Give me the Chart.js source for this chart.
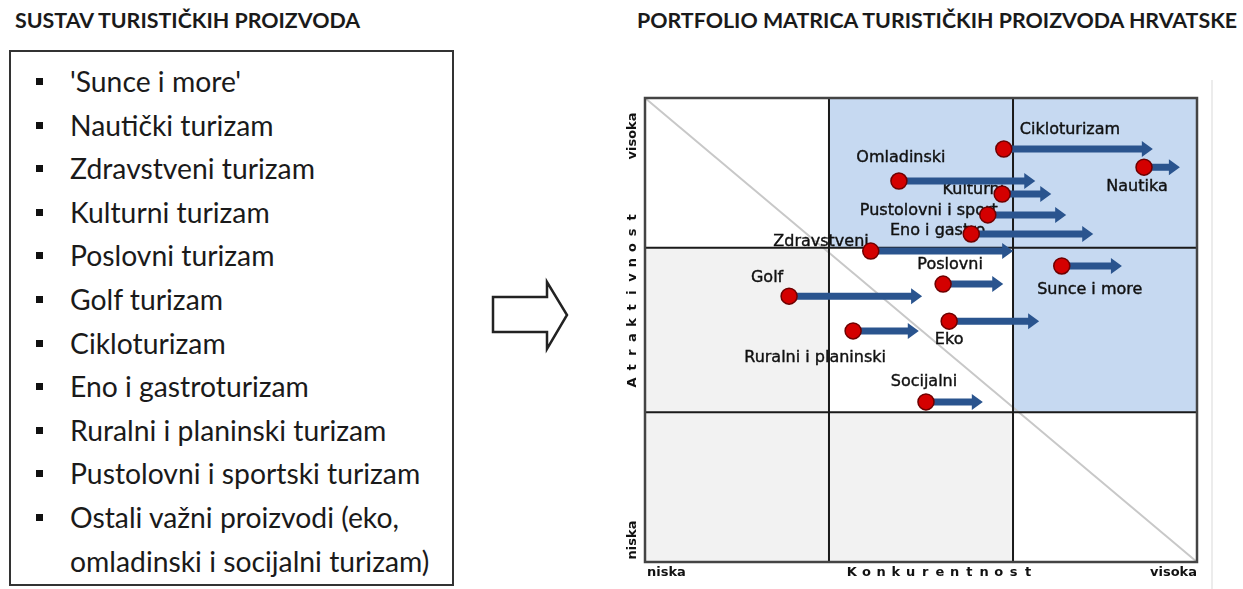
<!DOCTYPE html>
<html>
<head>
<meta charset="utf-8">
<script src="https://cdn.jsdelivr.net/npm/chart.js"></script>
<style>
  body { margin: 0; width: 1243px; height: 589px; background: #fff; position: relative; overflow: hidden; font-family: Lato, "Open Sans", sans-serif; color: #111; }
  .title { position: absolute; top: 7px; font-weight: bold; font-size: 21.4px; color: #1a1a1a; }
  #box { position: absolute; left: 9px; top: 50px; width: 441px; height: 532px; border: 2px solid #333; }
  #box ul { list-style: none; margin: 0; padding: 8px 0 0 0; }
  #box li { position: relative; padding-left: 59px; font-size: 28.3px; line-height: 43.6px; white-space: pre-line; color: #1a1a1a; }
  #box li::before { content: ""; position: absolute; left: 25px; top: 18px; width: 7px; height: 7px; background: #111; }
  #rightLine { position: absolute; left: 1211px; top: 80px; width: 2px; height: 509px; background: #ececec; }
  #chartWrap { position: absolute; left: 600px; top: 40px; width: 643px; height: 549px; }
</style>
</head>
<body>
<div class="title" style="left:15px">SUSTAV TURISTIČKIH PROIZVODA</div>
<div id="box"><ul id="list"></ul></div>
<svg style="position:absolute;left:0;top:0" width="600" height="589">
  <polygon points="493,297 547,297 547,282 567,315 547,349 547,332 493,332" fill="#fff" stroke="#222" stroke-width="2.5" stroke-linejoin="miter"/>
</svg>
<div class="title" style="left:637px">PORTFOLIO MATRICA TURISTIČKIH PROIZVODA HRVATSKE</div>
<div id="rightLine"></div>
<div id="chartWrap"><canvas id="matrix" width="643" height="549"></canvas></div>

<script>
// lijevi popis
const listItems = [
  "'Sunce i more'",
  "Nautički turizam",
  "Zdravstveni turizam",
  "Kulturni turizam",
  "Poslovni turizam",
  "Golf turizam",
  "Cikloturizam",
  "Eno i gastroturizam",
  "Ruralni i planinski turizam",
  "Pustolovni i sportski turizam",
  "Ostali važni proizvodi (eko,\nomladinski i socijalni turizam)"
];

// portfolio matrica (0-100 na obje osi)
const products = ["Cikloturizam", "Nautika", "Omladinski", "Kulturni", "Pustolovni i sport", "Eno i gastro",
  "Zdravstveni", "Poslovni", "Sunce i more", "Golf", "Ruralni i planinski", "Eko", "Socijalni"];
const competitiveness = [65.0, 90.4, 46.0, 64.7, 62.1, 59.1, 40.9, 54.0, 75.5, 26.1, 37.7, 55.1, 50.9];
const competitivenessTarget = [92.0, 96.9, 70.7, 73.6, 76.3, 81.2, 66.7, 64.9, 86.4, 50.2, 49.6, 71.4, 61.2];
const attractiveness = [89.0, 85.1, 82.1, 79.3, 74.8, 70.7, 67.0, 59.9, 63.8, 57.3, 49.8, 51.9, 34.5];

const xAxisLabels = ["niska", "Konkurentnost", "visoka"];
const yAxisLabels = ["niska", "Atraktivnost", "visoka"];
const xSplits = [33.33, 66.67];
const ySplits = [32.3, 67.7];

document.getElementById("list").innerHTML = listItems.map((t) => `<li>${t}</li>`).join("");

// izgled
const BLUE = "#c6d9f1";
const GREY = "#f2f2f2";
const cellFill = [
  [null, BLUE, BLUE], // gornji red
  [GREY, null, BLUE],
  [GREY, GREY, null]
];
// pomak oznake od tocke: dx, dy, poravnanje
const labelOffsets = [
  [16, -19, "left"], [-7, 20, "center"], [2, -23, "center"], [2, -4, "right"], [10, -4, "right"],
  [14, -3, "right"], [-2, -9, "right"], [7, -19, "center"], [28, 24, "center"], [-22, -18, "center"],
  [-38, 27, "center"], [0, 19, "center"], [-2, -20, "center"]
];
const ARROW = "#2a548e";
const LABEL_FONT = "16px 'DejaVu Sans', sans-serif";

function spacedText(ctx, text, cx, cy, pitch) {
  const n = text.length;
  for (let i = 0; i < n; i++) {
    ctx.fillText(text[i], cx + (i - (n - 1) / 2) * pitch, cy);
  }
}

const matrixPlugin = {
  id: "matrix",
  beforeDatasetsDraw(chart) {
    const ctx = chart.ctx;
    const { left, right, top, bottom } = chart.chartArea;
    const xs = chart.scales.x, ys = chart.scales.y;
    const xb = [0, ...xSplits, 100].map((v) => xs.getPixelForValue(v));
    const yb = [100, ...ySplits.slice().reverse(), 0].map((v) => ys.getPixelForValue(v));
    ctx.save();

    // polja
    for (let r = 0; r < 3; r++) {
      for (let c = 0; c < 3; c++) {
        if (!cellFill[r][c]) continue;
        ctx.fillStyle = cellFill[r][c];
        ctx.fillRect(xb[c], yb[r], xb[c + 1] - xb[c], yb[r + 1] - yb[r]);
      }
    }

    // dijagonala
    ctx.strokeStyle = "#c8c8c8";
    ctx.lineWidth = 2;
    ctx.beginPath();
    ctx.moveTo(left, top);
    ctx.lineTo(right, bottom);
    ctx.stroke();

    // unutarnje linije
    ctx.strokeStyle = "#1a1a1a";
    ctx.lineWidth = 2;
    ctx.beginPath();
    [xb[1], xb[2]].forEach((x) => { ctx.moveTo(x, top); ctx.lineTo(x, bottom); });
    [yb[1], yb[2]].forEach((y) => { ctx.moveTo(left, y); ctx.lineTo(right, y); });
    ctx.stroke();

    // okvir
    ctx.strokeStyle = "#444";
    ctx.lineWidth = 2.5;
    ctx.strokeRect(left, top, right - left, bottom - top);

    // osi
    ctx.fillStyle = "#111";
    ctx.font = "bold 13px 'DejaVu Sans', sans-serif";
    ctx.textBaseline = "middle";
    const by = bottom + 11;
    ctx.textAlign = "left";
    ctx.fillText(xAxisLabels[0], left + 2, by);
    ctx.textAlign = "right";
    ctx.fillText(xAxisLabels[2], right, by);
    ctx.textAlign = "center";
    spacedText(ctx, xAxisLabels[1], (left + right) / 2 + 19, by, 14.7);

    ctx.save();
    ctx.translate(left - 12, 0);
    ctx.rotate(-Math.PI / 2);
    ctx.textAlign = "center";
    ctx.fillText(yAxisLabels[2], -(top + 38), 0);
    ctx.fillText(yAxisLabels[0], -(bottom - 22), 0);
    spacedText(ctx, yAxisLabels[1], -(top + 202), 0, 15);
    ctx.restore();

    // oznake proizvoda
    ctx.font = LABEL_FONT;
    ctx.fillStyle = "#111";
    ctx.strokeStyle = "#111";
    ctx.lineWidth = 0.4;
    products.forEach((name, i) => {
      const px = xs.getPixelForValue(competitiveness[i]);
      const py = ys.getPixelForValue(attractiveness[i]);
      const [dx, dy, al] = labelOffsets[i];
      ctx.textAlign = al;
      ctx.fillText(name, px + dx, py + dy);
      ctx.strokeText(name, px + dx, py + dy);
    });

    // strelice
    ctx.fillStyle = ARROW;
    products.forEach((name, i) => {
      const x0 = xs.getPixelForValue(competitiveness[i]);
      const x1 = xs.getPixelForValue(competitivenessTarget[i]);
      const y = ys.getPixelForValue(attractiveness[i]);
      const head = 11, half = 8, shaft = 3.5;
      ctx.beginPath();
      ctx.moveTo(x0, y - shaft);
      ctx.lineTo(x1 - head, y - shaft);
      ctx.lineTo(x1 - head, y - half);
      ctx.lineTo(x1, y);
      ctx.lineTo(x1 - head, y + half);
      ctx.lineTo(x1 - head, y + shaft);
      ctx.lineTo(x0, y + shaft);
      ctx.closePath();
      ctx.fill();
    });
    ctx.restore();
  }
};

new Chart(document.getElementById("matrix"), {
  type: "scatter",
  data: {
    datasets: [{
      label: "Proizvodi",
      data: products.map((p, i) => ({ x: competitiveness[i], y: attractiveness[i] })),
      backgroundColor: "#d40000",
      borderColor: "#6e0000",
      borderWidth: 1.5,
      pointRadius: 8,
      pointHoverRadius: 8
    }]
  },
  options: {
    responsive: false,
    animation: false,
    layout: { padding: { left: 45, right: 46, top: 58, bottom: 27 } },
    scales: {
      x: { type: "linear", min: 0, max: 100, display: false },
      y: { type: "linear", min: 0, max: 100, display: false }
    },
    plugins: { legend: { display: false }, tooltip: { enabled: false } }
  },
  plugins: [matrixPlugin]
});
</script>
</body>
</html>
